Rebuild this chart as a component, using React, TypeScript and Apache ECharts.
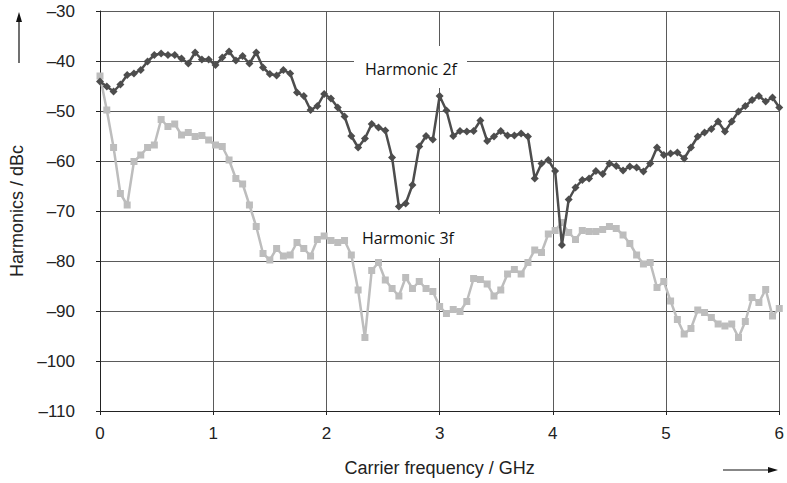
import React, { useEffect, useRef } from "react";
import * as echarts from "echarts";

// Frequency sampling grid of the measurement (GHz)
const FREQ_START_GHZ = 0;
const FREQ_STEP_GHZ = 0.06;

// Harmonic 2f (dBc), one value per frequency step
const harmonic2f = [
  -44.1, -45.1, -46.1, -44.7, -42.8, -42.5, -41.8, -40.1, -38.8, -38.5,
  -38.8, -38.8, -39.5, -40.5, -38.3, -39.7, -39.7, -40.8, -39.3, -38.1,
  -39.9, -39.0, -40.5, -38.3, -41.3, -42.6, -42.9, -41.8, -42.5, -46.3,
  -47.0, -49.8, -49.0, -46.6, -47.5, -49.3, -51.1, -55.0, -57.3, -55.5,
  -52.6, -53.3, -53.9, -59.3, -69.1, -68.5, -64.8, -57.1, -55.0, -55.7,
  -47.0, -49.9, -55.0, -54.0, -54.1, -54.0, -51.9, -56.0, -55.1, -54.0,
  -54.9, -54.9, -54.5, -55.1, -63.5, -60.5, -59.8, -62.0, -76.8, -67.7,
  -65.3, -63.8, -63.5, -62.0, -62.6, -60.5, -61.0, -61.9, -61.1, -61.3,
  -62.1, -60.5, -57.3, -58.8, -58.5, -58.3, -59.5, -57.3, -55.1, -54.3,
  -53.6, -52.1, -54.1, -52.1, -50.1, -49.0, -47.8, -47.0, -48.1, -47.3,
  -49.3,
];

// Harmonic 3f (dBc), one value per frequency step
const harmonic3f = [
  -43.0, -49.8, -57.3, -66.5, -68.8, -60.1, -58.8, -57.3, -56.8, -51.7,
  -53.1, -52.6, -54.8, -54.3, -55.1, -54.9, -55.8, -56.8, -57.1, -59.8,
  -63.5, -64.6, -68.8, -73.1, -78.5, -79.8, -77.5, -79.0, -78.8, -76.3,
  -77.5, -79.0, -75.7, -75.0, -75.9, -76.3, -75.9, -78.8, -85.8, -95.3,
  -81.9, -80.3, -83.8, -85.5, -87.0, -83.3, -85.5, -84.1, -85.5, -86.1,
  -89.1, -90.5, -89.7, -90.1, -88.1, -83.5, -83.7, -84.6, -87.0, -85.8,
  -82.6, -81.7, -82.6, -80.3, -77.8, -78.3, -74.6, -73.9, -72.3, -74.3,
  -75.7, -73.9, -74.1, -74.1, -73.7, -73.1, -73.5, -74.8, -76.5, -78.8,
  -80.6, -80.3, -85.3, -84.1, -88.0, -91.7, -94.6, -93.5, -89.8, -90.3,
  -91.3, -92.6, -93.0, -92.6, -95.3, -92.1, -87.3, -88.3, -85.7, -91.0,
  -89.5,
];

const xAxisRange = { min: 0, max: 6, interval: 1 };
const yAxisRange = { min: -110, max: -30, interval: 10 };

const seriesNames = ["Harmonic 3f", "Harmonic 2f"];
const xAxisTitle = "Carrier frequency / GHz";
const yAxisTitle = "Harmonics / dBc";

const toPairs = (vals: number[]) =>
  vals.map((v, i) => [
    Math.round((FREQ_START_GHZ + i * FREQ_STEP_GHZ) * 100) / 100,
    v,
  ]);

const fmtTick = (v: number) => (v < 0 ? "\u2013" + Math.abs(v) : String(v));

export default function App() {
  const ref = useRef<HTMLDivElement | null>(null);

  useEffect(() => {
    if (!ref.current) return;
    const chart = echarts.init(ref.current, undefined, { renderer: "svg" });
    const textColor = "#222";
    const gridColor = "#5a5a5a";
    const font = "Liberation Sans";
    const labelFont = "Open Sans";

    chart.setOption({
      animation: false,
      backgroundColor: "#ffffff",
      grid: { left: 98, right: 6, top: 11, bottom: 72, containLabel: false },
      xAxis: {
        type: "value",
        min: xAxisRange.min,
        max: xAxisRange.max,
        interval: xAxisRange.interval,
        name: xAxisTitle,
        nameLocation: "middle",
        nameGap: 48,
        nameTextStyle: { color: textColor, fontSize: 18, fontFamily: font },
        axisLine: { show: true, onZero: false, lineStyle: { color: "#222", width: 1 } },
        axisTick: { show: true, inside: false, length: 4, lineStyle: { color: "#222" } },
        axisLabel: {
          color: textColor,
          fontSize: 17,
          fontFamily: font,
          margin: 14,
          formatter: (v: number) => fmtTick(v),
        },
        splitLine: { show: true, lineStyle: { color: gridColor, width: 1 } },
      },
      yAxis: {
        type: "value",
        min: yAxisRange.min,
        max: yAxisRange.max,
        interval: yAxisRange.interval,
        name: yAxisTitle,
        nameLocation: "middle",
        nameGap: 74,
        nameRotate: 90,
        nameTextStyle: { color: textColor, fontSize: 18, fontFamily: font },
        axisLine: { show: true, onZero: false, lineStyle: { color: "#222", width: 1 } },
        axisTick: { show: true, inside: false, length: 4, lineStyle: { color: "#222" } },
        axisLabel: {
          color: textColor,
          fontSize: 17,
          fontFamily: font,
          margin: 25,
          formatter: (v: number) => fmtTick(v),
        },
        splitLine: { show: true, lineStyle: { color: gridColor, width: 1 } },
      },
      series: [
        {
          name: seriesNames[0],
          type: "line",
          data: toPairs(harmonic3f),
          symbol: "rect",
          symbolSize: 7,
          showAllSymbol: true,
          z: 2,
          lineStyle: { color: "#bdbdbd", width: 2.5 },
          itemStyle: { color: "#bdbdbd" },
        },
        {
          name: seriesNames[1],
          type: "line",
          data: toPairs(harmonic2f),
          symbol: "diamond",
          symbolSize: 8,
          showAllSymbol: true,
          z: 3,
          lineStyle: { color: "#4d4d4d", width: 2.5 },
          itemStyle: { color: "#4d4d4d" },
        },
      ],
      graphic: [
        { type: "rect", z: 1, shape: { x: 354, y: 46, width: 113, height: 42 }, style: { fill: "#fff" } },
        {
          type: "text", z: 5, x: 411, y: 69,
          style: { text: seriesNames[1], fill: "#111", fontSize: 16, fontFamily: labelFont, textAlign: "center", textVerticalAlign: "middle" },
        },
        { type: "rect", z: 1, shape: { x: 352, y: 214, width: 115, height: 44 }, style: { fill: "#fff" } },
        {
          type: "text", z: 5, x: 408, y: 238,
          style: { text: seriesNames[0], fill: "#111", fontSize: 16, fontFamily: labelFont, textAlign: "center", textVerticalAlign: "middle" },
        },
        // axis direction arrows
        { type: "line", z: 5, shape: { x1: 19, y1: 63, x2: 19, y2: 20 }, style: { stroke: "#111", lineWidth: 1.2 } },
        { type: "polygon", z: 5, shape: { points: [[19, 12], [16, 22], [22, 22]] }, style: { fill: "#111" } },
        { type: "line", z: 5, shape: { x1: 723, y1: 470, x2: 770, y2: 470 }, style: { stroke: "#111", lineWidth: 1.2 } },
        { type: "polygon", z: 5, shape: { points: [[778, 470], [768, 467], [768, 473]] }, style: { fill: "#111" } },
      ],
    });

    return () => chart.dispose();
  }, []);

  return (
    <div
      ref={ref}
      style={{ position: "fixed", left: 0, top: 0, width: 787, height: 483, background: "#fff" }}
    />
  );
}
